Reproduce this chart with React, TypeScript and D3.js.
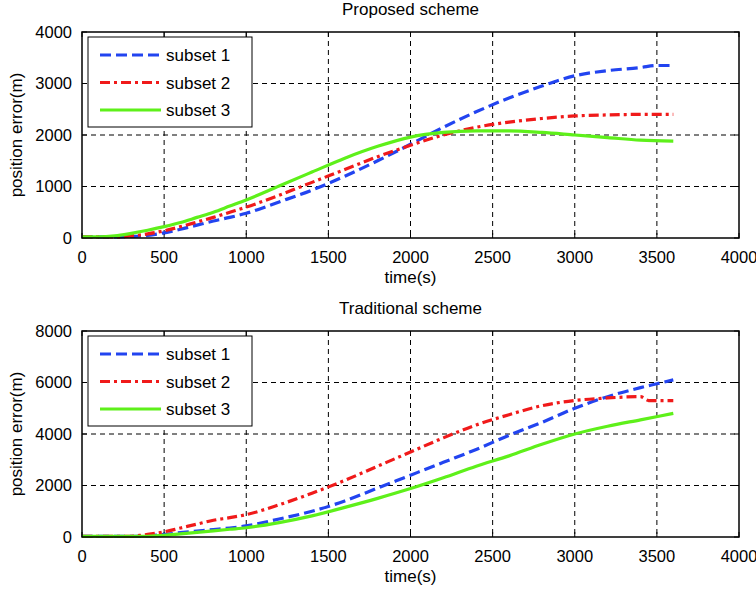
import React from 'react';
import * as d3 from 'd3';

const xTicks = [0, 500, 1000, 1500, 2000, 2500, 3000, 3500, 4000];
const topYTicks = [0, 1000, 2000, 3000, 4000];
const bottomYTicks = [0, 2000, 4000, 6000, 8000];
const seriesNames = ['subset 1', 'subset 2', 'subset 3'];

// proposed scheme
const propT1 = [0, 200, 300, 400, 500, 600, 700, 800, 900, 1000, 1200, 1400, 1600, 1800, 2000, 2200, 2400, 2600, 2800, 3000, 3200, 3400, 3500, 3600];
const propS1 = [20, 20, 30, 50, 100, 170, 250, 330, 400, 480, 700, 930, 1200, 1500, 1820, 2150, 2450, 2720, 2950, 3150, 3250, 3310, 3350, 3350];
const propT2 = [0, 200, 300, 400, 500, 600, 700, 800, 900, 1000, 1200, 1400, 1600, 1800, 2000, 2200, 2400, 2600, 2800, 3000, 3200, 3400, 3600];
const propS2 = [20, 20, 40, 80, 140, 220, 310, 400, 500, 600, 830, 1080, 1330, 1580, 1800, 2000, 2150, 2250, 2320, 2370, 2390, 2400, 2400];
const propT3 = [0, 100, 200, 300, 400, 500, 600, 700, 800, 900, 1000, 1200, 1400, 1600, 1800, 2000, 2200, 2400, 2600, 2800, 3000, 3200, 3400, 3600];
const propS3 = [20, 20, 40, 90, 150, 220, 300, 400, 500, 620, 740, 1010, 1280, 1550, 1780, 1960, 2050, 2080, 2080, 2050, 2000, 1950, 1900, 1880];

// traditional scheme
const tradT1 = [0, 300, 400, 500, 600, 700, 800, 900, 1000, 1200, 1400, 1600, 1800, 2000, 2200, 2400, 2600, 2800, 3000, 3200, 3400, 3500, 3600];
const tradS1 = [30, 30, 50, 100, 170, 230, 290, 350, 430, 700, 1000, 1400, 1900, 2400, 2900, 3400, 3950, 4450, 5000, 5450, 5800, 5950, 6100];
const tradT2 = [0, 300, 350, 400, 500, 600, 700, 800, 900, 1000, 1200, 1400, 1600, 1800, 2000, 2200, 2400, 2600, 2800, 3000, 3200, 3400, 3450, 3600];
const tradS2 = [30, 30, 60, 100, 200, 350, 500, 650, 750, 870, 1250, 1700, 2200, 2750, 3300, 3850, 4350, 4750, 5100, 5300, 5400, 5450, 5300, 5300];
const tradT3 = [0, 400, 500, 600, 700, 800, 900, 1000, 1200, 1400, 1600, 1800, 2000, 2200, 2400, 2600, 2800, 3000, 3200, 3400, 3600];
const tradS3 = [30, 30, 60, 120, 180, 240, 300, 360, 560, 820, 1150, 1500, 1880, 2300, 2750, 3150, 3600, 4000, 4300, 4550, 4800];

const colors = ['#2244f0', '#f01a1a', '#5ef01a'];
const dashes = ['11,5', '10,4,3,4', 'none'];
const font = 'Arial, "Liberation Sans", Helvetica, sans-serif';

type Series = { t: number[]; v: number[] };

const Panel = ({ top, title, yMax, yTicks, series }: { top: number; title: string; yMax: number; yTicks: number[]; series: Series[] }) => {
  const left = 82, right = 739, h = 206;
  const x = d3.scaleLinear().domain([0, 4000]).range([left, right]);
  const y = d3.scaleLinear().domain([0, yMax]).range([top + h, top]);
  const line = d3.line<[number, number]>()
    .x(d => x(d[0]))
    .y(d => y(d[1]))
    .curve(d3.curveMonotoneX);

  return (
    <g>
      <text x={(left + right) / 2} y={top - 17} textAnchor="middle" fontSize={17}>{title}</text>
      {/* grid */}
      {xTicks.slice(1, -1).map(t => (
        <line key={'gx' + t} x1={x(t)} x2={x(t)} y1={top} y2={top + h} stroke="#000" strokeWidth={1} strokeDasharray="5,4" />
      ))}
      {yTicks.slice(1, -1).map(t => (
        <line key={'gy' + t} x1={left} x2={right} y1={y(t)} y2={y(t)} stroke="#000" strokeWidth={1} strokeDasharray="5,4" />
      ))}
      {/* ticks */}
      {xTicks.map(t => (
        <g key={'tx' + t}>
          <line x1={x(t)} x2={x(t)} y1={top + h} y2={top + h - 5} stroke="#000" />
          <line x1={x(t)} x2={x(t)} y1={top} y2={top + 5} stroke="#000" />
          <text x={x(t)} y={top + h + 25} textAnchor="middle" fontSize={16.5}>{t}</text>
        </g>
      ))}
      {yTicks.map(t => (
        <g key={'ty' + t}>
          <line x1={left} x2={left + 5} y1={y(t)} y2={y(t)} stroke="#000" />
          <line x1={right} x2={right - 5} y1={y(t)} y2={y(t)} stroke="#000" />
          <text x={left - 10} y={y(t)} dy="0.36em" textAnchor="end" fontSize={16.5}>{t}</text>
        </g>
      ))}
      {/* data */}
      {series.map((s, i) => (
        <path key={'s' + i} d={line(s.t.map((t, j) => [t, s.v[j]] as [number, number])) || ''}
          fill="none" stroke={colors[i]} strokeWidth={3.2} strokeDasharray={dashes[i]} />
      ))}
      <rect x={left} y={top} width={right - left} height={h} fill="none" stroke="#000" strokeWidth={1.5} />
      {/* legend */}
      <rect x={88} y={top + 5} width={164} height={90} fill="#fff" stroke="#000" strokeWidth={1} />
      {seriesNames.map((n, i) => (
        <g key={'l' + i}>
          <line x1={100} x2={161} y1={top + 23 + i * 27.5} y2={top + 23 + i * 27.5}
            stroke={colors[i]} strokeWidth={3.2} strokeDasharray={dashes[i]} />
          <text x={166} y={top + 23 + i * 27.5} dy="0.36em" fontSize={17}>{n}</text>
        </g>
      ))}
      <text x={(left + right) / 2} y={top + h + 45} textAnchor="middle" fontSize={17}>time(s)</text>
      <text transform={`translate(22,${top + h / 2}) rotate(-90)`} textAnchor="middle" fontSize={17}>position error(m)</text>
    </g>
  );
};

const App = () => (
  <svg width={756} height={592} style={{ position: 'absolute', left: 0, top: 0, background: '#fff' }} fontFamily={font}>
    <rect width={756} height={592} fill="#fff" />
    <Panel top={32} title="Proposed scheme" yMax={4000} yTicks={topYTicks}
      series={[{ t: propT1, v: propS1 }, { t: propT2, v: propS2 }, { t: propT3, v: propS3 }]} />
    <Panel top={331} title="Traditional scheme" yMax={8000} yTicks={bottomYTicks}
      series={[{ t: tradT1, v: tradS1 }, { t: tradT2, v: tradS2 }, { t: tradT3, v: tradS3 }]} />
  </svg>
);

export default App;
